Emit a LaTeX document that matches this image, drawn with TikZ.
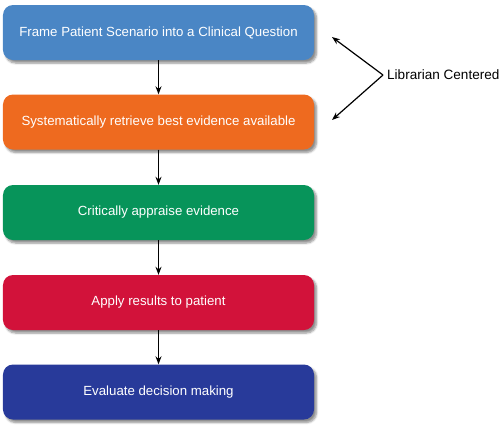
\documentclass[tikz,border=0pt]{standalone}
\usepackage{fontspec}
\setmainfont{Liberation Sans}
\usetikzlibrary{arrows.meta,shadows.blur}
\definecolor{cblue}{HTML}{4A86C5}
\definecolor{corange}{HTML}{EE6A1F}
\definecolor{cgreen}{HTML}{07945A}
\definecolor{cred}{HTML}{D2123A}
\definecolor{cnavy}{HTML}{283A9A}
\tikzset{
  stepbox/.style={rectangle, rounded corners=10bp, minimum width=311bp, minimum height=55bp,
    text=white, font=\fontsize{13.3}{15}\selectfont, inner sep=0pt,
    blur shadow={shadow xshift=2.5bp, shadow yshift=-3bp, shadow blur steps=6, shadow opacity=45}},
  flow/.style={-{Stealth[length=8bp,width=6bp]}, line width=1.2bp, black},
}
\begin{document}
\begin{tikzpicture}[x=1bp,y=-1bp]
\useasboundingbox (0,0) rectangle (503,428);
\node[stepbox, fill=cblue] (b1) at (158.5,32.5) {Frame Patient Scenario into a Clinical Question};
\node[stepbox, fill=corange] (b2) at (158.5,122) {Systematically retrieve best evidence available};
\node[stepbox, fill=cgreen] (b3) at (158.5,212.5) {Critically appraise evidence};
\node[stepbox, fill=cred] (b4) at (158.5,302.5) {Apply results to patient};
\node[stepbox, fill=cnavy] (b5) at (158.5,392) {Evaluate decision making};
\draw[flow] (b1) -- (b2);
\draw[flow] (b2) -- (b3);
\draw[flow] (b3) -- (b4);
\draw[flow] (b4) -- (b5);
\node[anchor=west, font=\fontsize{13.6}{15}\selectfont, inner sep=0pt] (lab) at (387,75) {Librarian Centered};
\coordinate (v) at (383,75);
\coordinate (t1) at (332,37);
\coordinate (t2) at (332,120);
\draw[flow] (v) -- (t1);
\draw[flow] (v) -- (t2);
\end{tikzpicture}
\end{document}
